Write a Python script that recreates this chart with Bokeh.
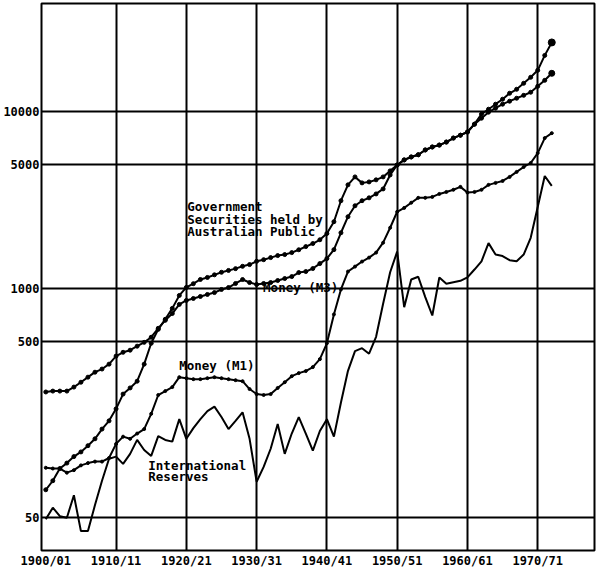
from bokeh.plotting import figure
from bokeh.models import Range1d, FixedTicker, Label
from bokeh.embed import file_html
from bokeh.resources import INLINE

# ---- data ----
years = list(range(1900, 1973))

gov_securities = [72, 81, 95, 102, 111, 118, 128, 140, 159, 177,
                  207, 251, 272, 297, 371, 487, 584, 666, 768, 909,
                  1010, 1060, 1120, 1150, 1190, 1230, 1260, 1290, 1330, 1360,
                  1420, 1450, 1490, 1530, 1550, 1590, 1650, 1720, 1790, 1880,
                  2040, 2380, 3130, 3850, 4270, 3950, 4000, 4110, 4270, 4620,
                  4990, 5330, 5540, 5700, 6070, 6310, 6470, 6730, 7090, 7360,
                  7670, 8500, 9190, 9940, 10470, 11030, 11470, 11920, 12380, 12890,
                  13930, 15060, 16500]

money_m3 = [258, 261, 261, 261, 275, 293, 313, 334, 348, 371,
            412, 433, 445, 469, 493, 527, 592, 657, 718, 809,
            852, 874, 897, 921, 944, 983, 1008, 1063, 1119, 1076,
            1049, 1063, 1076, 1105, 1134, 1163, 1226, 1242, 1292, 1378,
            1471, 1653, 2060, 2540, 2930, 3130, 3250, 3420, 3650, 4380,
            4990, 5330, 5540, 5700, 6070, 6310, 6470, 6730, 7090, 7360,
            7670, 8500, 9690, 10330, 11030, 11770, 12720, 13400, 14490, 15670,
            17160, 20850, 24690]

money_m1 = [96, 95, 95, 90, 93, 99, 102, 104, 104, 109,
            131, 144, 140, 150, 159, 194, 248, 261, 275, 313,
            309, 305, 305, 309, 313, 309, 305, 301, 297, 268,
            251, 248, 251, 272, 293, 317, 330, 339, 357, 396,
            487, 710, 983, 1242, 1325, 1415, 1490, 1590, 1810, 2200,
            2710, 2850, 3050, 3250, 3250, 3290, 3420, 3510, 3610, 3750,
            3480, 3510, 3610, 3850, 3950, 4050, 4270, 4560, 4860, 5120,
            5830, 7090, 7560]

reserves = [49, 57, 51, 50, 67, 42, 42, 59, 81, 108,
            111, 101, 115, 138, 121, 112, 145, 138, 135, 181,
            140, 161, 181, 201, 213, 186, 159, 177, 198, 140,
            80, 97, 123, 170, 115, 150, 186, 150, 120, 155,
            181, 144, 225, 340, 440, 457, 425, 530, 815, 1230,
            1610, 780, 1120, 1160, 890, 700, 1150, 1060, 1080, 1100,
            1150, 1275, 1420, 1800, 1550, 1520, 1440, 1420, 1550, 1930,
            2880, 4320, 3800]

x_ticks = [1900, 1910, 1920, 1930, 1940, 1950, 1960, 1970]
x_tick_labels = ["1900/01", "1910/11", "1920/21", "1930/31",
                 "1940/41", "1950/51", "1960/61", "1970/71"]
y_ticks = [50, 500, 1000, 5000, 10000]
y_tick_labels = ["50", "500", "1000", "5000", "10000"]

FONT = "DejaVu Sans Mono"
INK = "black"

p = figure(width=598, height=570, y_axis_type="log",
           x_range=Range1d(1899.39, 1978.08), y_range=Range1d(32.6, 41040),
           output_backend="svg", toolbar_location=None,
           min_border_left=40, min_border_right=4,
           min_border_top=3, min_border_bottom=18)

p.background_fill_color = "white"
p.border_fill_color = "white"
p.outline_line_color = INK
p.outline_line_width = 2
p.outline_line_alpha = 1

p.xgrid.ticker = FixedTicker(ticks=x_ticks[1:])
p.ygrid.ticker = FixedTicker(ticks=y_ticks)
for g in (p.xgrid, p.ygrid):
    g.grid_line_color = INK
    g.grid_line_width = 2
    g.grid_line_alpha = 1

p.xaxis.ticker = FixedTicker(ticks=x_ticks)
p.xaxis.major_label_overrides = dict(zip(x_ticks, x_tick_labels))
p.yaxis.ticker = FixedTicker(ticks=y_ticks)
p.yaxis.major_label_overrides = dict(zip(y_ticks, y_tick_labels))
for ax in (p.xaxis, p.yaxis):
    ax.axis_line_color = None
    ax.major_tick_line_color = None
    ax.minor_tick_line_color = None
    ax.major_tick_out = 0
    ax.major_tick_in = 0
    ax.major_label_text_font = FONT
    ax.major_label_text_font_style = "bold"
    ax.major_label_text_color = INK
p.xaxis.major_label_text_font_size = "12px"
p.xaxis.major_label_standoff = 3
p.yaxis.major_label_text_font_size = "12px"
p.yaxis.major_label_standoff = 2

# series
p.line(years, reserves, line_color=INK, line_width=2)
p.line(years, money_m1, line_color=INK, line_width=2)
p.scatter(years, money_m1, size=3, color=INK)
p.line(years, money_m3, line_color=INK, line_width=2)
p.scatter(years, money_m3, size=4, color=INK)
p.line(years, gov_securities, line_color=INK, line_width=2)
p.scatter(years, gov_securities, size=4, color=INK)
p.scatter([years[-1]], [money_m3[-1]], size=7, color=INK)
p.scatter([years[-1]], [gov_securities[-1]], size=6, color=INK)

def add_label(x, y, text):
    p.add_layout(Label(x=x, y=y, text=text, text_font=FONT,
                       text_font_size="12.5px", text_font_style="bold",
                       text_color=INK, text_baseline="middle",
                       text_align="left"))

add_label(1920.13, 2893, "Government")
add_label(1920.13, 2442, "Securities held by")
add_label(1920.13, 2090, "Australian Public")
add_label(1930.92, 1009, "Money (M3)")
add_label(1918.99, 366, "Money (M1)")
add_label(1914.59, 98.5, "International")
add_label(1914.59, 85.3, "Reserves")

open("out.html", "w").write(file_html(p, INLINE))
